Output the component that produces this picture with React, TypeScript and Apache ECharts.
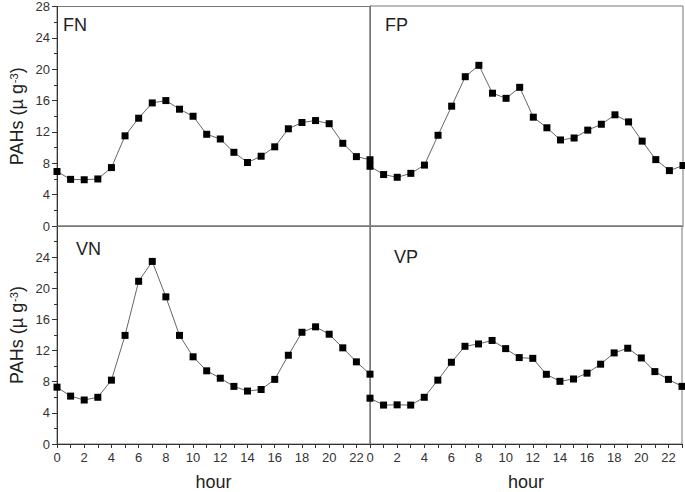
import React, { useEffect, useRef } from "react";
import * as echarts from "echarts";

const hours = [0, 1, 2, 3, 4, 5, 6, 7, 8, 9, 10, 11, 12, 13, 14, 15, 16, 17, 18, 19, 20, 21, 22, 23];
const fnValues = [6.95, 5.95, 5.9, 6.0, 7.45, 11.5, 13.75, 15.7, 16.0, 14.9, 14.0, 11.7, 11.1, 9.4, 8.1, 8.9, 10.1, 12.4, 13.2, 13.45, 13.05, 10.55, 8.85, 8.45];
const fpValues = [7.6, 6.55, 6.2, 6.7, 7.75, 11.55, 15.25, 19.0, 20.45, 16.9, 16.25, 17.65, 13.85, 12.5, 10.95, 11.2, 12.2, 12.95, 14.15, 13.25, 10.8, 8.45, 7.05, 7.7];
const vnValues = [7.3, 6.15, 5.65, 6.0, 8.2, 13.95, 20.9, 23.45, 18.9, 13.95, 11.2, 9.4, 8.45, 7.4, 6.8, 7.0, 8.3, 11.4, 14.35, 15.05, 14.1, 12.35, 10.55, 8.97];
const vpValues = [5.88, 5.0, 5.03, 5.0, 6.0, 8.2, 10.5, 12.55, 12.85, 13.3, 12.25, 11.1, 11.0, 8.95, 8.05, 8.35, 9.1, 10.25, 11.7, 12.3, 11.05, 9.3, 8.3, 7.4];
const panelNames = ["FN", "FP", "VN", "VP"];
const yTitle = "PAHs (µ g";
const xTitle = "hour";

const FONT = "'Liberation Sans', Arial, sans-serif";

export default function App() {
  const ref = useRef<HTMLDivElement>(null);
  useEffect(() => {
    if (!ref.current) return;
    const chart = echarts.init(ref.current, undefined, { renderer: "svg" });
    const seriesData = [fnValues, fpValues, vnValues, vpValues];
    const grids = [
      { left: 57, top: 6, width: 313, height: 220 },
      { left: 370, top: 6, width: 313, height: 220 },
      { left: 57, top: 226, width: 313, height: 219 },
      { left: 370, top: 226, width: 313, height: 219 },
    ].map((g) => ({ ...g, show: true, borderColor: "#777", borderWidth: 1, containLabel: false }));

    const xAxes = grids.map((_, i) => {
      const bottom = i >= 2;
      return {
        type: "value",
        gridIndex: i,
        min: 0,
        max: 23,
        interval: 1,
        name: bottom ? xTitle : "",
        nameLocation: "middle",
        nameGap: 29,
        nameTextStyle: { fontFamily: FONT, fontSize: 18, color: "#222" },
        axisLine: { show: true, lineStyle: { color: bottom ? "#333" : "#777", width: 1 } },
        axisTick: { show: bottom, length: 4, lineStyle: { color: "#333" } },
        axisLabel: {
          show: bottom,
          interval: 0,
          margin: 7,
          fontFamily: FONT,
          fontSize: 13,
          color: "#333",
          formatter: (v: number) => (v % 2 === 0 && v <= 22 ? String(v) : ""),
        },
        splitLine: { show: false },
      };
    });

    const yAxes = grids.map((_, i) => {
      const left = i % 2 === 0;
      return {
        type: "value",
        gridIndex: i,
        min: 0,
        max: 28,
        interval: 4,
        name: left ? "{a|" + yTitle + "}{s|-3}{a|)}" : "",
        nameLocation: "middle",
        nameRotate: 90,
        nameGap: 31,
        nameTextStyle: {
          rich: {
            a: { fontFamily: FONT, fontSize: 18, color: "#222" },
            s: { fontFamily: FONT, fontSize: 11, color: "#222", verticalAlign: "top", padding: [0, 0, 0, 1] },
          },
        },
        axisLine: { show: true, lineStyle: { color: left ? "#333" : "#777", width: 1 } },
        axisTick: { show: left, length: 5, lineStyle: { color: "#333" } },
        minorTick: { show: left, splitNumber: 2, length: 3, lineStyle: { color: "#333" } },
        axisLabel: {
          show: left,
          margin: 7,
          fontFamily: FONT,
          fontSize: 13,
          color: "#333",
          formatter: (v: number) => (i >= 2 && v === 28 ? "" : String(v)),
        },
        splitLine: { show: false },
      };
    });

    const series = seriesData.map((vals, i) => ({
      type: "line",
      name: panelNames[i],
      xAxisIndex: i,
      yAxisIndex: i,
      data: hours.map((h, k) => [h, vals[k]]),
      symbol: "rect",
      symbolSize: 7,
      itemStyle: { color: "#000" },
      lineStyle: { color: "#666", width: 1 },
      clip: false,
    }));

    const labelPos = [
      { left: 63, top: 16 },
      { left: 385, top: 16 },
      { left: 76, top: 240 },
      { left: 394, top: 248 },
    ];
    const graphic = panelNames.map((n, i) => ({
      type: "text",
      left: labelPos[i].left,
      top: labelPos[i].top,
      style: { text: n, font: "18px " + FONT, fill: "#222" },
    }));

    chart.setOption({
      animation: false,
      backgroundColor: "#fff",
      grid: grids,
      xAxis: xAxes,
      yAxis: yAxes,
      series,
      graphic,
    });
    return () => chart.dispose();
  }, []);
  return (
    <div
      ref={ref}
      style={{ position: "fixed", left: 0, top: 0, width: 685, height: 492, background: "#fff" }}
    />
  );
}
